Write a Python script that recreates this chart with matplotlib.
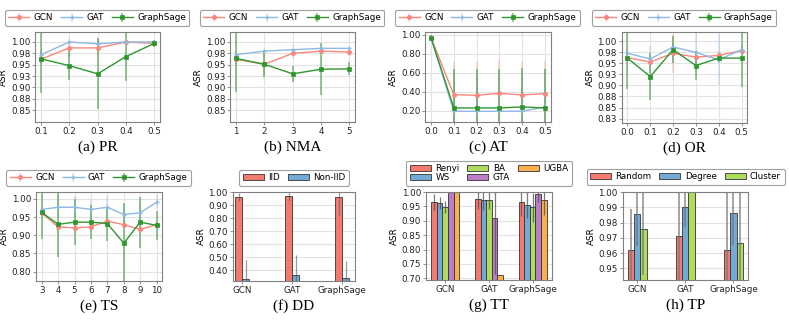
import matplotlib
matplotlib.use('Agg')
import matplotlib.pyplot as plt
import matplotlib.colors as mcolors
import numpy as np

# ---------------- data ----------------
models = ["GCN", "GAT", "GraphSage"]

# (a) PR
pr_x = [0.1, 0.2, 0.3, 0.4, 0.5]
pr_gcn = [0.962, 0.987, 0.987, 1.000, 0.997]
pr_gat = [0.972, 1.000, 0.996, 1.000, 1.000]
pr_sage = [0.963, 0.948, 0.930, 0.968, 0.997]
pr_gcn_err = [0.010, 0.020, 0.020, 0.002, 0.006]
pr_gat_err = [0.010, 0.002, 0.012, 0.002, 0.002]
pr_sage_err = [0.075, 0.032, 0.078, 0.054, 0.007]

# (b) NMA
nma_x = [1, 2, 3, 4, 5]
nma_gcn = [0.962, 0.951, 0.975, 0.980, 0.978]
nma_gat = [0.972, 0.980, 0.983, 0.986, 0.986]
nma_sage = [0.964, 0.951, 0.930, 0.940, 0.941]
nma_gcn_err = [0.010, 0.025, 0.010, 0.005, 0.008]
nma_gat_err = [0.010, 0.005, 0.010, 0.004, 0.004]
nma_sage_err = [0.074, 0.027, 0.017, 0.057, 0.014]

# (c) AT
at_x = [0.0, 0.1, 0.2, 0.3, 0.4, 0.5]
at_gcn = [0.968, 0.368, 0.361, 0.382, 0.365, 0.379]
at_gat = [0.968, 0.193, 0.193, 0.193, 0.193, 0.239]
at_sage = [0.968, 0.228, 0.228, 0.228, 0.239, 0.228]
at_gcn_err = [0.03, 0.348, 0.348, 0.348, 0.348, 0.348]
at_gat_err = [0.03, 0.40, 0.40, 0.40, 0.40, 0.40]
at_sage_err = [0.03, 0.41, 0.41, 0.41, 0.41, 0.41]

# (d) OR
or_x = [0.0, 0.1, 0.2, 0.3, 0.4, 0.5]
or_gcn = [0.963, 0.953, 0.973, 0.964, 0.968, 0.979]
or_gat = [0.973, 0.960, 0.987, 0.975, 0.958, 0.981]
or_sage = [0.962, 0.920, 0.981, 0.945, 0.962, 0.962]
or_gcn_err = [0.010, 0.010, 0.044, 0.010, 0.010, 0.008]
or_gat_err = [0.010, 0.030, 0.010, 0.045, 0.058, 0.010]
or_sage_err = [0.071, 0.053, 0.030, 0.032, 0.010, 0.066]

# (e) TS
ts_x = [3, 4, 5, 6, 7, 8, 9, 10]
ts_gcn = [0.962, 0.923, 0.920, 0.923, 0.939, 0.929, 0.916, 0.929]
ts_gat = [0.971, 0.977, 0.977, 0.971, 0.977, 0.957, 0.962, 0.991]
ts_sage = [0.963, 0.930, 0.936, 0.936, 0.932, 0.878, 0.936, 0.927]
ts_gcn_err = [0.005, 0.010, 0.010, 0.010, 0.010, 0.010, 0.010, 0.010]
ts_gat_err = [0.010, 0.030, 0.030, 0.030, 0.030, 0.030, 0.030, 0.020]
ts_sage_err = [0.073, 0.090, 0.064, 0.047, 0.047, 0.110, 0.070, 0.041]

# (f) DD
dd_labels = ["IID", "Non-IID"]
dd_iid = [0.961, 0.969, 0.961]
dd_noniid = [0.335, 0.366, 0.343]
dd_iid_err = [0.030, 0.036, 0.140]
dd_noniid_err = [0.143, 0.151, 0.127]

# (g) TT
tt_labels = ["Renyi", "WS", "BA", "GTA", "UGBA"]
tt_renyi = [0.965, 0.976, 0.965]
tt_ws = [0.962, 0.971, 0.956]
tt_ba = [0.947, 0.971, 0.947]
tt_gta = [0.999, 0.909, 0.994]
tt_ugba = [1.000, 0.712, 0.971]
tt_renyi_err = [0.028, 0.035, 0.050]
tt_ws_err = [0.020, 0.035, 0.045]
tt_ba_err = [0.020, 0.030, 0.050]
tt_gta_err = [0.003, 0.195, 0.030]
tt_ugba_err = [0.0, 0.0, 0.050]

# (h) TP
tp_labels = ["Random", "Degree", "Cluster"]
tp_random = [0.962, 0.9715, 0.962]
tp_degree = [0.9859, 0.990, 0.986]
tp_cluster = [0.976, 1.000, 0.9667]
tp_random_err = [0.027, 0.035, 0.040]
tp_degree_err = [0.021, 0.013, 0.021]
tp_cluster_err = [0.030, 0.0, 0.035]

# ---------------- style ----------------
W, H = 789, 321
FS = 6.3
plt.rcParams['font.family'] = ['DejaVu Sans']
fig = plt.figure(figsize=(W / 100, H / 100), dpi=100)

C_GCN = '#F8877D'
C_GAT = '#8DB8E2'
C_SAGE = '#2F962F'
BAR_COLORS = ['#F47A6E', '#74A9D6', '#ADDC5E', '#BA7DC6', '#FAB04F']


def ax_at(x0, x1, y0, y1):
    return fig.add_axes([x0 / W, 1 - y1 / H, (x1 - x0) / W, (y1 - y0) / H])


def style(ax, ygrid_only=False):
    for s in ax.spines.values():
        s.set_color('#808080')
        s.set_linewidth(0.8)
    ax.tick_params(length=2, width=0.6, pad=1.5, labelsize=FS, colors='#222222',
                   color='#808080')
    if ygrid_only:
        ax.grid(True, axis='y', color='#e2e2e2', lw=0.8)
    else:
        ax.grid(True, color='#e2e2e2', lw=0.8)
    ax.set_axisbelow(True)
    ax.set_ylabel('ASR', fontsize=FS, labelpad=2)


def legend(ax, cx, bottom, ncol=3, **kw):
    opts = dict(loc='lower center', bbox_to_anchor=(cx / W, 1 - bottom / H),
                bbox_transform=fig.transFigure, ncol=ncol, fontsize=FS,
                handlelength=2.4, handletextpad=0.5, columnspacing=0.9,
                borderpad=0.4, borderaxespad=0, frameon=True, edgecolor='#a0a0a0',
                framealpha=1.0)
    opts.update(kw)
    leg = ax.legend(**opts)
    leg.get_frame().set_linewidth(0.8)
    return leg


def caption(cx, yc, text):
    fig.text(cx / W, 1 - yc / H, text, ha='center', va='center', fontsize=11,
             family=['Liberation Serif', 'DejaVu Serif'])


def line_panel(box, x, ys, errs, yticks, ylabels, ylim, xticks, xlabels, cap):
    x0, x1, y0, y1 = box
    ax = ax_at(x0, x1, y0, y1)
    specs = [("GCN", C_GCN, 'o', 0.35, 1.2),
             ("GAT", C_GAT, '+', 0.35, 1.2),
             ("GraphSage", C_SAGE, 's', 0.6, 1.2)]
    for (name, c, m, ea, ew), y, e in zip(specs, ys, errs):
        ax.errorbar(x, y, yerr=e, color=c, marker=m, ms=3, mew=1.0 if m == '+' else 0.5,
                    lw=1.0, ecolor=mcolors.to_rgba(c, ea), elinewidth=ew, capsize=0,
                    label=name)
    ax.set_yticks(yticks)
    ax.set_yticklabels(ylabels)
    ax.set_ylim(*ylim)
    ax.set_xticks(xticks)
    ax.set_xticklabels(xlabels)
    style(ax)
    cx = (x0 + x1) / 2
    legend(ax, cx - 0.5, y0 - 6)
    caption(cx, y1 + 25, cap)
    return ax


def bar_panel(box, groups, vals, errs, names, width, xlim, yticks, ylabels, ylim, cap,
              ecol, elw, leg_bottom, leg_kw):
    x0, x1, y0, y1 = box
    ax = ax_at(x0, x1, y0, y1)
    pos = np.arange(len(groups))
    n = len(vals)
    for i, (v, e, nm) in enumerate(zip(vals, errs, names)):
        off = (i - (n - 1) / 2) * width
        ax.bar(pos + off, v, width, yerr=e, color=BAR_COLORS[i], edgecolor='#333333',
               linewidth=0.6, label=nm,
               error_kw=dict(ecolor=ecol, elinewidth=elw, capsize=0))
    ax.set_xticks(pos)
    ax.set_xticklabels(groups)
    ax.set_xlim(*xlim)
    ax.set_yticks(yticks)
    ax.set_yticklabels(ylabels)
    ax.set_ylim(*ylim)
    style(ax, ygrid_only=True)
    cx = (x0 + x1) / 2
    legend(ax, cx, leg_bottom, **leg_kw)
    caption(cx, y1 + 25, cap)
    return ax


t25 = [0.85, 0.875, 0.9, 0.925, 0.95, 0.975, 1.0]
t25l = ['0.85', '0.88', '0.90', '0.93', '0.95', '0.98', '1.00']

line_panel((35.3, 160.0, 32, 122), pr_x, [pr_gcn, pr_gat, pr_sage],
           [pr_gcn_err, pr_gat_err, pr_sage_err], t25, t25l, (0.824, 1.022),
           pr_x, ['0.1', '0.2', '0.3', '0.4', '0.5'], '(a) PR')

line_panel((230.3, 355.0, 32, 122), nma_x, [nma_gcn, nma_gat, nma_sage],
           [nma_gcn_err, nma_gat_err, nma_sage_err], t25, t25l, (0.824, 1.022),
           nma_x, ['1', '2', '3', '4', '5'], '(b) NMA')

line_panel((425.3, 550.7, 32, 122), at_x, [at_gcn, at_gat, at_sage],
           [at_gcn_err, at_gat_err, at_sage_err], [0.2, 0.4, 0.6, 0.8, 1.0],
           ['0.20', '0.40', '0.60', '0.80', '1.00'], (0.08, 1.028),
           at_x, ['0.0', '0.1', '0.2', '0.3', '0.4', '0.5'], '(c) AT')

line_panel((621.7, 747.3, 32, 123), or_x, [or_gcn, or_gat, or_sage],
           [or_gcn_err, or_gat_err, or_sage_err], [0.825] + t25,
           ['0.83'] + t25l, (0.815, 1.021),
           or_x, ['0.0', '0.1', '0.2', '0.3', '0.4', '0.5'], '(d) OR')

line_panel((35.9, 162.4, 192, 281), ts_x, [ts_gcn, ts_gat, ts_sage],
           [ts_gcn_err, ts_gat_err, ts_sage_err], [0.80, 0.85, 0.90, 0.95, 1.00],
           ['0.80', '0.85', '0.90', '0.95', '1.00'], (0.774, 1.019),
           ts_x, [str(v) for v in ts_x], '(e) TS')

bar_panel((232.7, 355.0, 192, 281), models, [dd_iid, dd_noniid],
          [dd_iid_err, dd_noniid_err], dd_labels, 0.14, (-0.19, 2.26),
          [0.4, 0.5, 0.6, 0.7, 0.8, 0.9, 1.0],
          ['0.40', '0.50', '0.60', '0.70', '0.80', '0.90', '1.00'], (0.318, 1.0),
          '(f) DD', (0.35, 0.35, 0.35, 0.6), 0.9, 186, {})

bar_panel((426.0, 552.3, 192, 280), models,
          [tt_renyi, tt_ws, tt_ba, tt_gta, tt_ugba],
          [tt_renyi_err, tt_ws_err, tt_ba_err, tt_gta_err, tt_ugba_err], tt_labels,
          0.128, (-0.44, 2.45), [0.70, 0.75, 0.80, 0.85, 0.90, 0.95, 1.00],
          ['0.70', '0.75', '0.80', '0.85', '0.90', '0.95', '1.00'], (0.694, 1.0),
          '(g) TT', (0.3, 0.3, 0.3, 0.75), 0.9, 186, dict(labelspacing=0.05))

bar_panel((622.7, 748.3, 192, 280), models, [tp_random, tp_degree, tp_cluster],
          [tp_random_err, tp_degree_err, tp_cluster_err], tp_labels, 0.13,
          (-0.3, 2.31), [0.95, 0.96, 0.97, 0.98, 0.99, 1.00],
          ['0.95', '0.96', '0.97', '0.98', '0.99', '1.00'], (0.9424, 1.0),
          '(h) TP', (0.45, 0.45, 0.45, 0.7), 1.3, 185, {})

fig.savefig('out.png', dpi=100)
